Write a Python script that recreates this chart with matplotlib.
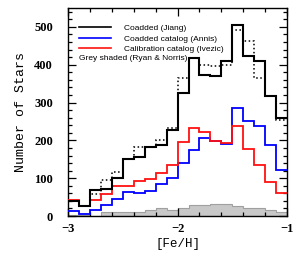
import matplotlib
matplotlib.use("Agg")
import matplotlib.pyplot as plt
import numpy as np
from matplotlib.ticker import MultipleLocator

# [Fe/H] bins, 0.1 dex wide from -3 to -1
bin_edges = np.round(np.arange(-3.0, -0.95, 0.1), 2)

# star counts per bin
jiang = [40, 27, 68, 72, 101, 150, 155, 182, 187, 228,
         325, 417, 373, 369, 409, 504, 424, 410, 316, 260]
jiang_dotted = [40, 27, 57, 95, 116, 150, 182, 182, 202, 233,
                365, 417, 400, 396, 400, 492, 463, 366, 316, 255]
annis = [13, 6, 15, 29, 44, 63, 60, 67, 84, 101,
         140, 175, 206, 198, 190, 285, 251, 237, 189, 121]
ivezic = [42, 26, 42, 58, 80, 80, 92, 97, 113, 134,
          195, 234, 223, 198, 193, 238, 177, 136, 90, 62]
ryan_norris = [2, 2, 0, 10, 10, 10, 12, 17, 20, 16,
               20, 28, 29, 33, 32, 27, 20, 22, 17, 12]

labels = ["Coadded (Jiang)", "Coadded catalog (Annis)", "Calibration catalog (Ivezic)"]
grey_label = "Grey shaded (Ryan & Norris)"

fig = plt.figure(figsize=(3.0, 2.56), dpi=100)
ax = fig.add_axes([0.227, 0.156, 0.73, 0.813])

ax.stairs(ryan_norris, bin_edges, fill=True, color="#c8c8c8", zorder=1)
ax.stairs(ryan_norris, bin_edges, baseline=None, color="#a0a0a0", lw=0.8, zorder=1)
ax.stairs(jiang_dotted, bin_edges, baseline=None, color="black", lw=1.1, ls=":", zorder=2)
h_blue = ax.stairs(annis, bin_edges, baseline=None, color="#0000ff", lw=1.3, zorder=3)
h_red = ax.stairs(ivezic, bin_edges, baseline=None, color="#ff1010", lw=1.3, zorder=3)
h_black = ax.stairs(jiang, bin_edges, baseline=None, color="black", lw=1.5, zorder=4)

ax.set_xlim(-3, -1)
ax.set_ylim(0, 550)

ax.xaxis.set_major_locator(MultipleLocator(1))
ax.xaxis.set_minor_locator(MultipleLocator(0.2))
ax.yaxis.set_major_locator(MultipleLocator(100))
ax.yaxis.set_minor_locator(MultipleLocator(20))
ax.tick_params(which="both", direction="in", top=True, right=True, width=0.9)
ax.tick_params(which="major", length=5.5)
ax.tick_params(which="minor", length=3)
ax.tick_params(axis="y", which="major", pad=10.8)
ax.tick_params(axis="x", which="major", pad=5)
for sp in ax.spines.values():
    sp.set_linewidth(1.0)

ax.set_xticks([-3, -2, -1])
ax.set_xticklabels(["\u22123", "\u22122", "\u22121"])
for t in ax.get_xticklabels() + ax.get_yticklabels():
    t.set_fontfamily("Liberation Serif")
    t.set_fontsize(9)
    t.set_fontweight("bold")

ax.set_xlabel("[Fe/H]", family="Liberation Mono", fontsize=9, labelpad=2)
ax.set_ylabel("Number of Stars", family="Liberation Mono", fontsize=9.5, labelpad=5)

leg = ax.legend([h_black, h_blue, h_red], labels, loc="upper left",
                bbox_to_anchor=(0.0, 0.975),
                frameon=False, prop={"family": "Liberation Sans", "size": 6},
                handlelength=3.8, handletextpad=1.55, labelspacing=0.35,
                borderaxespad=0.8, borderpad=0.5)
for line in leg.get_lines():
    line.set_linewidth(1.2)
ax.text(0.049, 0.757, grey_label, transform=ax.transAxes, family="Liberation Sans",
        fontsize=6, va="center", ha="left")

fig.savefig("out.png", dpi=100)
